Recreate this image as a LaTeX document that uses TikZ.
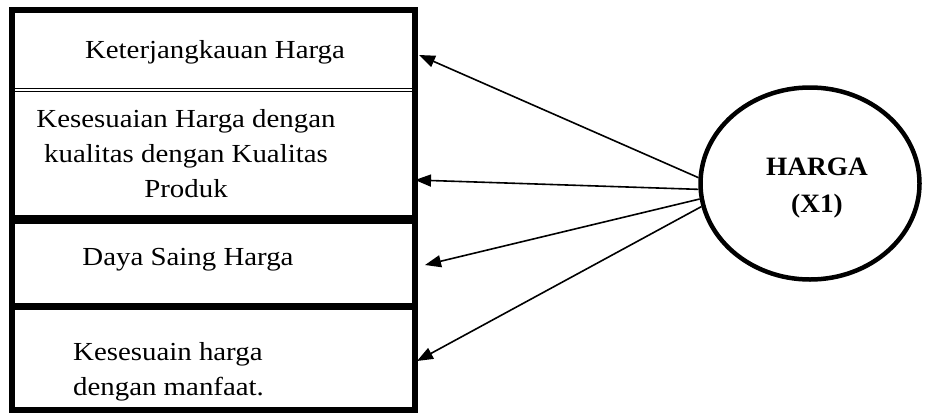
\documentclass[tikz,border=0pt]{standalone}
\usepackage{fontspec}
\setmainfont{Liberation Serif}[FakeStretch=1.11, BoldFeatures={FakeStretch=1.03}]
\usetikzlibrary{arrows.meta,shapes.geometric}
\begin{document}
\begin{tikzpicture}[x=1pt,y=-1pt,
  frame/.style={line width=6pt},
  sep/.style={line width=1.5pt},
  lbl/.style={font=\fontsize{26}{35}\selectfont, inner sep=0pt, anchor=base, align=center},
  link/.style={-{Triangle[length=16pt,width=12pt]}, line width=1.6pt}]
\useasboundingbox (0,0) rectangle (928,413);
% frame of the indicator boxes
\draw[frame] (12,10) rectangle (415,410);
\draw[sep] (12,88.5) -- (415,88.5);
\draw[sep] (12,91.5) -- (415,91.5);
\draw[line width=9pt] (12,219.5) -- (415,219.5);
\draw[line width=7pt] (12,306.5) -- (415,306.5);
% texts (base anchor = baseline of the last line)
\node[lbl] (k1) at (215,58) {Keterjangkauan Harga};
\node[lbl] (k2) at (186,197) {Kesesuaian Harga dengan\\kualitas dengan Kualitas\\Produk};
\node[lbl] (k3) at (188,265) {Daya Saing Harga};
\node[lbl, anchor=base west, align=left] (k4) at (73,395) {Kesesuain harga\\dengan manfaat.};
% arrow targets on the right border
\coordinate (t1) at (419,55);
\coordinate (t2) at (415,180);
\coordinate (t3) at (425,265);
\coordinate (t4) at (417,361);
% latent variable
\node[draw, ellipse, line width=4.5pt, minimum width=219pt, minimum height=192pt, inner sep=0pt] (h) at (810,183.5) {};
\node[lbl, font=\fontsize{26.5}{37}\selectfont\bfseries] (hx) at (817,212.5) {HARGA\\(X1)};
\draw[link] (h.177) -- (t1);
\draw[link] (h.183) -- (t2);
\draw[link] (h.188.5) -- (t3);
\draw[link] (h.192) -- (t4);
\end{tikzpicture}
\end{document}
